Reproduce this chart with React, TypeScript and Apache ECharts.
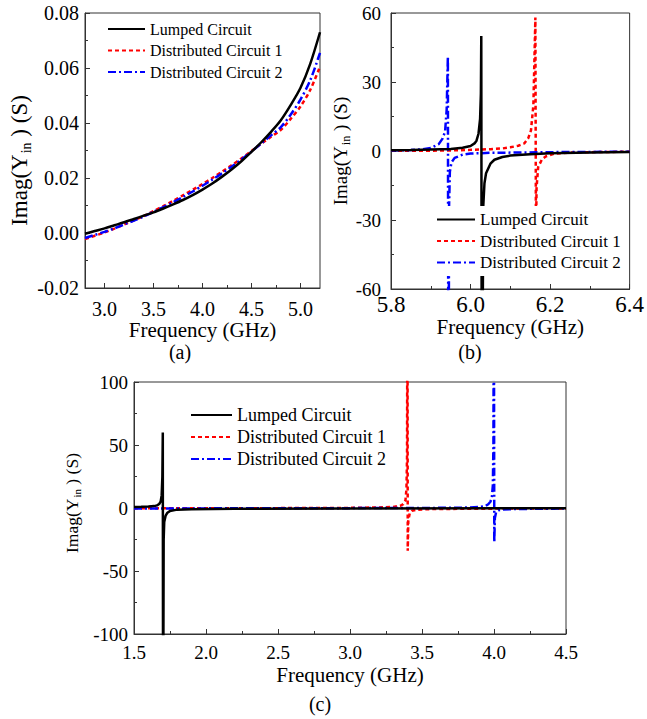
import { useEffect, useRef } from 'react';
import * as echarts from 'echarts';

const seriesNames = ['Lumped Circuit', 'Distributed Circuit 1', 'Distributed Circuit 2'];

// ---- (a) ----
const aFreq = [2.8, 2.9, 3.0, 3.1, 3.2, 3.3, 3.4, 3.5, 3.6, 3.7, 3.8, 3.9, 4.0, 4.1, 4.2, 4.3, 4.4, 4.5, 4.6, 4.7, 4.8, 4.9, 5.0, 5.1, 5.2];
const aLumped = [-0.0003, 0.0007, 0.0017, 0.0028, 0.0039, 0.0051, 0.0063, 0.0075, 0.0089, 0.0104, 0.0120, 0.0138, 0.0158, 0.0180, 0.0205, 0.0232, 0.0262, 0.0295, 0.0330, 0.0368, 0.0410, 0.0465, 0.0527, 0.0615, 0.0730];
const aDist1 = [-0.0022, -0.0010, 0.0002, 0.0016, 0.0031, 0.0046, 0.0062, 0.0080, 0.0098, 0.0117, 0.0137, 0.0157, 0.0178, 0.0200, 0.0223, 0.0247, 0.0272, 0.0298, 0.0325, 0.0350, 0.0375, 0.0415, 0.0460, 0.0520, 0.0605];
const aDist2 = [-0.0018, -0.0007, 0.0004, 0.0017, 0.0031, 0.0045, 0.0060, 0.0077, 0.0094, 0.0112, 0.0131, 0.0151, 0.0172, 0.0194, 0.0217, 0.0242, 0.0268, 0.0296, 0.0326, 0.0355, 0.0385, 0.0430, 0.0485, 0.0555, 0.0655];
const aXTicks = [3.0, 3.5, 4.0, 4.5, 5.0];
const aXMinor = [3.25, 3.75, 4.25, 4.75];

// ---- (b) [frequency GHz, Imag(Yin) S] ----
const bLumped = [
  [5.80, 0.3], [5.85, 0.4], [5.90, 0.6], [5.95, 0.9], [5.98, 1.4], [6.00, 2.2], [6.01, 3.3], [6.015, 4.5],
  [6.02, 7.5], [6.024, 14], [6.026, 25], [6.027, 50], [6.0285, -150], [6.032, -24], [6.035, -14], [6.039, -9.7],
  [6.05, -5.5], [6.06, -3.8], [6.08, -2.6], [6.10, -2.0], [6.15, -1.4], [6.20, -1.0], [6.30, -0.6], [6.40, -0.4],
];
const bDist1 = [
  [5.80, 0.1], [5.90, 0.15], [5.95, 0.25], [6.00, 0.5], [6.05, 0.8], [6.08, 1.1], [6.10, 1.6], [6.12, 2.3],
  [6.135, 3.3], [6.145, 5.5], [6.152, 9], [6.158, 20], [6.163, 58], [6.1645, -40], [6.166, -16], [6.17, -7],
  [6.18, -3.5], [6.19, -2.3], [6.21, -1.2], [6.25, -0.7], [6.30, -0.5], [6.40, -0.3],
];
const bDist2 = [
  [5.80, 0.2], [5.85, 0.4], [5.88, 0.8], [5.90, 1.3], [5.92, 3.0], [5.93, 5.5], [5.936, 8.5], [5.940, 18],
  [5.943, 41], [5.9445, -150], [5.946, -24], [5.948, -9], [5.952, -5], [5.96, -3], [5.98, -1.6], [6.00, -1.1],
  [6.05, -0.8], [6.10, -0.7], [6.20, -0.5], [6.30, -0.4], [6.40, -0.3],
];

// ---- (c) ----
const cLumped = [
  [1.50, 0.8], [1.55, 0.9], [1.60, 1.1], [1.64, 1.5], [1.66, 2.1], [1.675, 3.2], [1.685, 5], [1.692, 10],
  [1.697, 25], [1.700, 60], [1.702, -200], [1.706, -25], [1.71, -11], [1.72, -6], [1.73, -4], [1.75, -2.3],
  [1.80, -1.3], [1.90, -0.9], [2.20, -0.6], [3.00, -0.4], [4.50, -0.2],
];
const cDist1 = [
  [1.50, -0.3], [2.00, -0.2], [2.50, -0.1], [3.00, 0.1], [3.20, 0.4], [3.30, 0.9], [3.35, 1.8], [3.37, 3],
  [3.385, 6], [3.392, 15], [3.396, 40], [3.399, 200], [3.401, -34], [3.405, -10], [3.415, -4], [3.43, -2.2],
  [3.46, -1.4], [3.55, -0.9], [3.80, -0.6], [4.20, -0.4], [4.50, -0.3],
];
const cDist2 = [
  [1.50, -0.4], [2.00, -0.3], [2.50, -0.2], [3.00, -0.1], [3.50, 0.0], [3.80, 0.3], [3.90, 0.8], [3.94, 1.5],
  [3.96, 3], [3.975, 5], [3.985, 8], [3.992, 18], [3.996, 50], [3.999, 200], [4.002, -27], [4.006, -8],
  [4.015, -3], [4.03, -1.8], [4.06, -1.2], [4.15, -0.8], [4.50, -0.4],
];

const FONT = '"Liberation Serif", "Times New Roman", serif';
const COLORS = ['#000000', '#ff0000', '#0000ff'];
const DASHES: any[] = ['solid', [4, 3], [8, 3, 2, 3]];

function App() {
  const ref = useRef<HTMLDivElement>(null);
  useEffect(() => {
    if (!ref.current) return;
    const chart = echarts.init(ref.current, null, { renderer: 'svg' });

    const tstyle = (fs: number) => ({ fontFamily: FONT, fontSize: fs, color: '#000' });

    const axisBase = {
      type: 'value',
      splitLine: { show: false },
      axisLine: { show: true, onZero: false, lineStyle: { color: '#333', width: 1 } },
      axisTick: { show: true, inside: true, length: 5, lineStyle: { color: '#333' } },
      minorTick: { show: true, splitNumber: 2, length: 3, lineStyle: { color: '#333' } },
    };

    const label = (fs: number, margin: number, digits: number, extra: any = {}) => ({
      ...tstyle(fs),
      margin,
      formatter: (v: number) => `{t|${digits >= 0 ? v.toFixed(digits) : String(v)}}`,
      rich: { t: tstyle(fs) },
      ...extra,
    });

    const yName = (fs: number, sub: number, gap: number, pad: number[]) => ({
      name: '{a|Imag(Y}{s|in}{a| ) (S)}',
      nameLocation: 'middle',
      nameGap: gap,
      nameTextStyle: {
        ...tstyle(fs),
        padding: pad,
        rich: {
          a: tstyle(fs),
          s: { ...tstyle(sub), padding: [Math.round(sub * 0.9), 0, 0, 1] },
        },
      },
    });

    const xName = (gap: number) => ({
      name: '{t|Frequency (GHz)}',
      nameLocation: 'middle',
      nameGap: gap,
      nameTextStyle: { ...tstyle(21), rich: { t: tstyle(21) } },
    });

    const zip = (xs: number[], ys: number[]) => xs.map((x, i) => [x, ys[i]]);

    const mk = (name: string, idx: number, data: number[][], axis: number, xAxisIdx: number, width: number, smooth: boolean) => ({
      type: 'line',
      name,
      data,
      xAxisIndex: xAxisIdx,
      yAxisIndex: axis,
      symbol: 'none',
      smooth: smooth ? 0.3 : false,
      clip: true,
      lineStyle: { color: COLORS[idx], width, type: DASHES[idx] },
      itemStyle: { color: COLORS[idx] },
      emphasis: { disabled: true },
      z: idx === 0 ? 3 : 2,
    });

    const legendCommon = (fs: number, w: number, gap: number) => ({
      orient: 'vertical',
      data: seriesNames,
      selectedMode: false,
      itemWidth: w,
      itemHeight: 12,
      itemGap: gap,
      itemStyle: { opacity: 0 },
      formatter: (n: string) => `{t|${n}}`,
      textStyle: { ...tstyle(fs), rich: { t: tstyle(fs) } },
    });

    const option: any = {
      animation: false,
      backgroundColor: '#fff',
      textStyle: { fontFamily: FONT },
      grid: [
        { left: 85, top: 13, width: 235, height: 275, show: true, borderColor: '#333', borderWidth: 1, backgroundColor: 'transparent' },
        { left: 391, top: 13, width: 244, height: 276, show: true, borderColor: '#333', borderWidth: 1, backgroundColor: 'transparent' },
        { left: 134, top: 382, width: 432, height: 252, show: true, borderColor: '#333', borderWidth: 1, backgroundColor: 'transparent' },
      ],
      xAxis: [
        {
          ...axisBase,
          gridIndex: 0, min: 2.8, max: 5.2, position: 'bottom',
          minorTick: { show: false },
          axisLabel: label(20, 11, 1, { customValues: aXTicks }),
          axisTick: { show: true, inside: true, length: 5, customValues: aXTicks, lineStyle: { color: '#333' } },
          ...xName(28),
        },
        {
          type: 'value', gridIndex: 0, min: 2.8, max: 5.2, position: 'bottom',
          splitLine: { show: false },
          axisLine: { show: false, onZero: false },
          axisLabel: { show: false },
          axisTick: { show: true, inside: true, length: 3, customValues: aXMinor, lineStyle: { color: '#333' } },
        },
        {
          ...axisBase,
          gridIndex: 1, min: 5.8, max: 6.4, interval: 0.2,
          axisLabel: label(23, 4, 1),
          ...xName(27),
        },
        {
          ...axisBase,
          gridIndex: 2, min: 1.5, max: 4.5, interval: 0.5,
          axisLabel: label(19, 9, 1),
          ...xName(30),
        },
      ],
      yAxis: [
        {
          ...axisBase,
          gridIndex: 0, min: -0.02, max: 0.08, interval: 0.02,
          axisLabel: label(20, 6, 2),
          ...yName(23, 14, 52, [0, 20, 0, 0]),
        },
        {
          ...axisBase,
          gridIndex: 1, min: -60, max: 60, interval: 30,
          axisLabel: label(19, 10, -1),
          ...yName(19, 12, 32, [0, 0, 0, 0]),
        },
        {
          ...axisBase,
          gridIndex: 2, min: -100, max: 100, interval: 50,
          axisLabel: label(19, 6, -1),
          ...yName(17.5, 11, 37, [0, 0, 0, 10]),
        },
      ],
      legend: [
        { ...legendCommon(16, 37, 5.5), left: 107, top: 21, padding: 0 },
        { ...legendCommon(17, 38, 4.5), left: 431, top: 206, padding: 5, backgroundColor: '#fff' },
        { ...legendCommon(18, 41, 4), left: 190, top: 406, padding: 0 },
      ],
      graphic: [
        { type: 'text', x: 180, y: 352, style: { text: '(a)', font: `20px ${FONT}`, fill: '#000', align: 'center', verticalAlign: 'middle' } },
        { type: 'text', x: 470, y: 352, style: { text: '(b)', font: `20px ${FONT}`, fill: '#000', align: 'center', verticalAlign: 'middle' } },
        { type: 'text', x: 320, y: 704, style: { text: '(c)', font: `20px ${FONT}`, fill: '#000', align: 'center', verticalAlign: 'middle' } },
      ],
      series: [
        mk(seriesNames[0], 0, zip(aFreq, aLumped), 0, 0, 2.5, true),
        mk(seriesNames[1], 1, zip(aFreq, aDist1), 0, 0, 2.5, true),
        mk(seriesNames[2], 2, zip(aFreq, aDist2), 0, 0, 2.5, true),
        mk(seriesNames[0], 0, bLumped, 1, 2, 2.5, false),
        mk(seriesNames[1], 1, bDist1, 1, 2, 2.5, false),
        mk(seriesNames[2], 2, bDist2, 1, 2, 2.5, false),
        mk(seriesNames[0], 0, cLumped, 2, 3, 2.5, false),
        mk(seriesNames[1], 1, cDist1, 2, 3, 2.5, false),
        mk(seriesNames[2], 2, cDist2, 2, 3, 2.5, false),
      ],
    };

    chart.setOption(option);
    return () => chart.dispose();
  }, []);

  return (
    <div
      ref={ref}
      style={{ position: 'absolute', left: 0, top: 0, width: 647, height: 719, background: '#fff' }}
    />
  );
}

export default App;
